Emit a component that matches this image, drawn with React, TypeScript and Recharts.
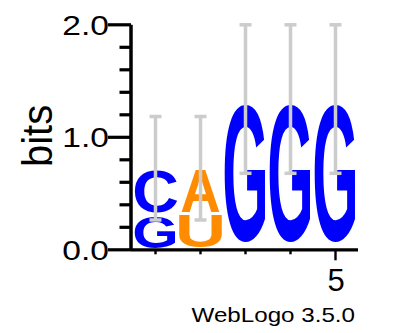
import React from "react";
import { BarChart, Bar, XAxis, YAxis, ErrorBar, Customized } from "recharts";

// sequence logo columns: lower + upper letter of each stack, heights in bits
const positions = ["1", "2", "3", "4", "5"];
const lowerLetters = ["G", "U", "", "", ""];
const lowerBits = [0.31, 0.32, 0, 0, 0];
const upperLetters = ["C", "A", "G", "G", "G"];
const upperBits = [0.415, 0.405, 1.34, 1.34, 1.34];
const errorBits = [0.46, 0.46, 0.66, 0.66, 0.66];
const yTicks = [0, 0.2, 0.4, 0.6, 0.8, 1.0, 1.2, 1.4, 1.6, 1.8, 2.0];
const labelledPositions = ["5"];

const data = positions.map((pos, i) => ({
  pos,
  lowerLetter: lowerLetters[i],
  lower: lowerBits[i],
  upperLetter: upperLetters[i],
  upper: upperBits[i],
  err: errorBits[i],
}));

const FONT = '"Liberation Sans", Arial, Helvetica, sans-serif';
const COLORS: Record<string, string> = {
  G: "#0000ff",
  C: "#0000ff",
  A: "#ff8c00",
  U: "#ff8c00",
};
// rough glyph extents for the bold font, in em
const METRICS: Record<string, { w: number; top: number; below: number }> = {
  G: { w: 0.678, top: 0.728, below: 0.012 },
  C: { w: 0.627, top: 0.728, below: 0.012 },
  A: { w: 0.722, top: 0.716, below: 0 },
  U: { w: 0.573, top: 0.716, below: 0.012 },
};

function Letter({ ch, x, y, width, height }: any) {
  if (!ch || !(height > 0)) return <g />;
  const m = METRICS[ch];
  const gw = width * 0.9;
  const gh = height * 0.95;
  const sx = gw / (m.w * 100);
  const sy = gh / ((m.top + m.below) * 100);
  return (
    <text
      transform={`translate(${x + width / 2},${y + gh}) scale(${sx},${sy})`}
      x={0}
      y={-m.below * 100}
      textAnchor="middle"
      fontFamily={FONT}
      fontWeight="bold"
      fontSize={100}
      fill={COLORS[ch]}
    >
      {ch}
    </text>
  );
}

function XTick({ x, y, payload }: any) {
  const major = labelledPositions.includes(String(payload.value));
  return (
    <g>
      <line x1={x} x2={x} y1={y} y2={y + (major ? 10.5 : 4.5)} stroke="#000" strokeWidth={2.4} />
      {major && (
        <text x={x + 0.5} y={291.3} textAnchor="middle" fontFamily={FONT} fontSize={31} fill="#000">
          {payload.value}
        </text>
      )}
    </g>
  );
}

function YTick({ x, y, payload }: any) {
  const v = Number(payload.value);
  const major = Math.abs(v - Math.round(v)) < 1e-6;
  return (
    <g>
      <line x1={x - (major ? 23 : 11.5)} x2={x} y1={y} y2={y} stroke="#000" strokeWidth={3.2} />
      {major && (
        <text
          transform={`translate(109,${y + 10}) scale(1.2,1)`}
          textAnchor="end"
          fontFamily={FONT}
          fontSize={28}
          fill="#000"
        >
          {v.toFixed(1)}
        </text>
      )}
    </g>
  );
}

function Extras() {
  return (
    <g>
      <text
        transform="translate(51.7,136) rotate(-90) scale(1,1.085)"
        textAnchor="middle"
        fontFamily={FONT}
        fontSize={40}
        fill="#000"
      >
        bits
      </text>
      <text
        x={191.5}
        y={321.7}
        fontFamily={FONT}
        fontSize={21}
        textLength={163.5}
        lengthAdjust="spacingAndGlyphs"
        fill="#000"
      >
        WebLogo 3.5.0
      </text>
    </g>
  );
}

export default function App() {
  return (
    <div style={{ position: "absolute", left: 0, top: 0, width: 408, height: 333, background: "#fff" }}>
      <BarChart
        width={408}
        height={333}
        data={data}
        margin={{ top: 24.8, right: 50, bottom: 0, left: 0 }}
        barCategoryGap={0}
        barGap={0}
      >
        <XAxis
          dataKey="pos"
          height={83.2}
          padding={{ left: 2, right: 0 }}
          interval={0}
          tickSize={0}
          tickMargin={0}
          tickLine={false}
          axisLine={{ stroke: "#000", strokeWidth: 3.2 }}
          tick={(p: any) => <XTick {...p} />}
        />
        <YAxis
          type="number"
          domain={[0, 2]}
          ticks={yTicks}
          width={131}
          interval={0}
          tickSize={0}
          tickMargin={0}
          tickLine={false}
          axisLine={{ stroke: "#000", strokeWidth: 3.5 }}
          tick={(p: any) => <YTick {...p} />}
        />
        <Bar
          dataKey="lower"
          stackId="logo"
          isAnimationActive={false}
          shape={(p: any) => <Letter ch={p.payload.lowerLetter} x={p.x} y={p.y} width={p.width} height={p.height} />}
        />
        <Bar
          dataKey="upper"
          stackId="logo"
          isAnimationActive={false}
          shape={(p: any) => <Letter ch={p.payload.upperLetter} x={p.x} y={p.y} width={p.width} height={p.height} />}
        >
          <ErrorBar
            dataKey="err"
            direction="y"
            width={6}
            stroke="#cccccc"
            strokeWidth={3.5}
            isAnimationActive={false}
          />
        </Bar>
        <Customized component={Extras} />
      </BarChart>
    </div>
  );
}
